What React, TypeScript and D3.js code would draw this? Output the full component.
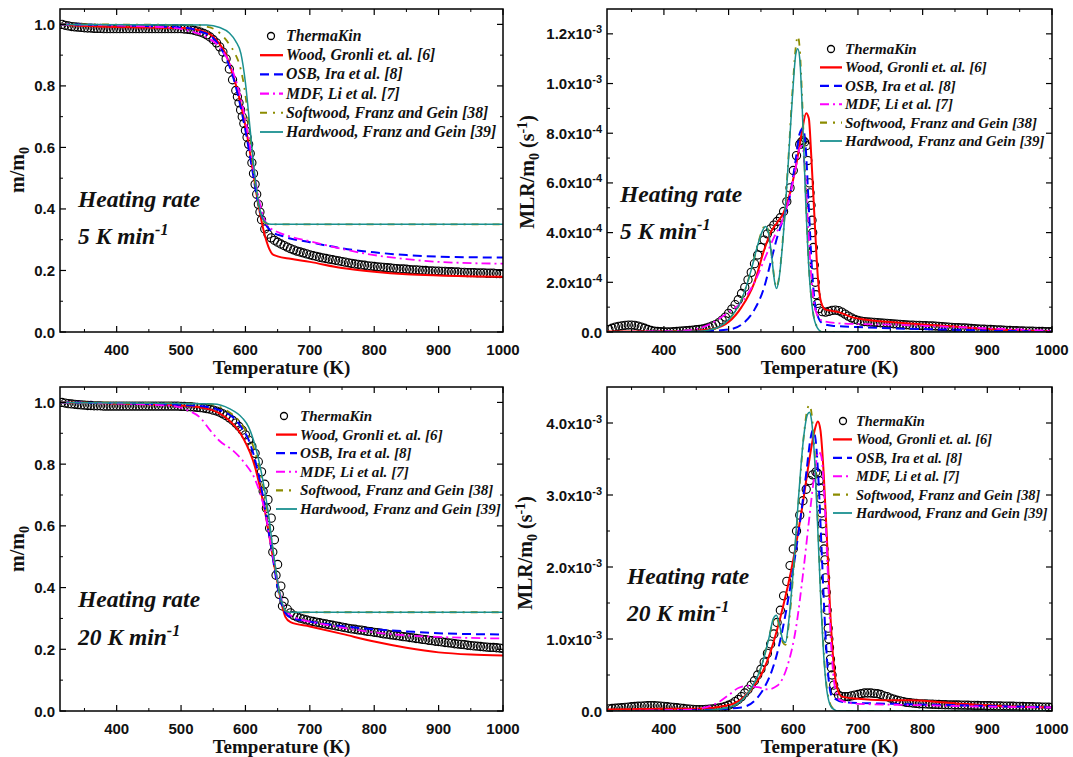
import React from 'react';
import * as d3 from 'd3';

// ---------------- DATA ----------------
// ThermaKin (experiment-fit) circles on a uniform 5 K grid starting at 315 K
const TK_T0 = 315;
const TK_DT = 5;

// Top-left: m/m0, 5 K/min
const tkMass5 = [
  1.0, 0.997, 0.995, 0.993, 0.992, 0.991, 0.99, 0.989, 0.988, 0.988,
  0.987, 0.987, 0.987, 0.986, 0.986, 0.986, 0.986, 0.986, 0.986, 0.986,
  0.986, 0.986, 0.986, 0.986, 0.986, 0.986, 0.986, 0.986, 0.986, 0.986,
  0.986, 0.986, 0.986, 0.986, 0.986, 0.986, 0.986, 0.986, 0.985, 0.984,
  0.983, 0.981, 0.978, 0.975, 0.971, 0.966, 0.959, 0.95, 0.94, 0.927,
  0.91, 0.888, 0.855, 0.82, 0.785, 0.745, 0.7, 0.655, 0.61, 0.55,
  0.48, 0.415, 0.365, 0.335, 0.318, 0.306, 0.298, 0.292, 0.286, 0.281,
  0.276, 0.271, 0.267, 0.263, 0.26, 0.257, 0.254, 0.251, 0.248, 0.246,
  0.243, 0.241, 0.239, 0.237, 0.235, 0.233, 0.231, 0.229, 0.227, 0.225,
  0.223, 0.221, 0.22, 0.218, 0.217, 0.215, 0.214, 0.213, 0.212, 0.211,
  0.21, 0.209, 0.208, 0.207, 0.206, 0.205, 0.205, 0.204, 0.203, 0.202,
  0.202, 0.201, 0.2, 0.2, 0.199, 0.199, 0.198, 0.198, 0.197, 0.197,
  0.196, 0.196, 0.195, 0.195, 0.194, 0.194, 0.193, 0.193, 0.193, 0.192,
  0.192, 0.192, 0.191, 0.191, 0.191, 0.19, 0.19, 0.19,
];
const tkMass5Extra: [number, number][] = [
  [587.5, 0.765], [592.5, 0.722], [597.5, 0.678], [602.5, 0.633],
  [607.5, 0.58], [612.5, 0.515], [617.5, 0.448], [622.5, 0.39],
];

// Top-right: MLR/m0, 5 K/min (units of 1e-4 s^-1)
const tkMlr5 = [
  0.1, 0.15, 0.2, 0.23, 0.25, 0.27, 0.28, 0.28, 0.27, 0.24,
  0.2, 0.15, 0.1, 0.06, 0.03, 0.02, 0.01, 0.0, 0.0, 0.0,
  0.01, 0.02, 0.03, 0.04, 0.05, 0.06, 0.07, 0.09, 0.1, 0.12,
  0.15, 0.2, 0.25, 0.3, 0.38, 0.48, 0.6, 0.75, 0.92, 1.1,
  1.3, 1.55, 1.8, 2.1, 2.4, 2.75, 3.1, 3.4, 3.7, 3.95,
  4.15, 4.3, 4.45, 4.6, 4.85, 5.25, 5.8, 6.5, 7.1, 7.55,
  7.7, 7.5, 6.0, 4.0, 1.5, 0.95, 0.82, 0.8, 0.83, 0.87,
  0.88, 0.86, 0.8, 0.72, 0.64, 0.57, 0.51, 0.47, 0.44, 0.42,
  0.41, 0.4, 0.39, 0.38, 0.37, 0.36, 0.35, 0.34, 0.33, 0.32,
  0.31, 0.3, 0.29, 0.28, 0.275, 0.27, 0.265, 0.26, 0.255, 0.25,
  0.245, 0.24, 0.23, 0.22, 0.21, 0.2, 0.19, 0.18, 0.175, 0.17,
  0.16, 0.15, 0.14, 0.13, 0.12, 0.115, 0.11, 0.105, 0.1, 0.095,
  0.085, 0.08, 0.07, 0.065, 0.06, 0.055, 0.05, 0.045, 0.04, 0.035,
  0.03, 0.03, 0.025, 0.02, 0.02, 0.015, 0.01, 0.01,
];
const tkMlr5Extra: [number, number][] = [
  [612.5, 7.65], [617.5, 7.65], [622.5, 6.9], [626, 5.6], [627.5, 5.1],
  [629, 4.5], [631, 3.4], [632.5, 2.7], [634, 2.0], [637.5, 1.15],
];

// Bottom-left: m/m0, 20 K/min
const tkMass20 = [
  1.0, 0.998, 0.996, 0.995, 0.994, 0.993, 0.992, 0.991, 0.99, 0.99,
  0.989, 0.989, 0.989, 0.988, 0.988, 0.988, 0.988, 0.988, 0.988, 0.988,
  0.988, 0.988, 0.988, 0.988, 0.988, 0.988, 0.988, 0.988, 0.988, 0.988,
  0.988, 0.988, 0.988, 0.988, 0.988, 0.988, 0.988, 0.987, 0.987, 0.986,
  0.986, 0.985, 0.984, 0.983, 0.982, 0.98, 0.978, 0.975, 0.972, 0.968,
  0.963, 0.957, 0.95, 0.942, 0.933, 0.922, 0.91, 0.895, 0.878, 0.858,
  0.835, 0.808, 0.775, 0.735, 0.685, 0.625, 0.555, 0.475, 0.405, 0.355,
  0.33, 0.318, 0.31, 0.305, 0.301, 0.298, 0.295, 0.292, 0.29, 0.288,
  0.286, 0.284, 0.282, 0.28, 0.278, 0.276, 0.274, 0.272, 0.27, 0.268,
  0.266, 0.265, 0.263, 0.262, 0.26, 0.258, 0.257, 0.255, 0.254, 0.252,
  0.25, 0.249, 0.247, 0.246, 0.244, 0.243, 0.241, 0.24, 0.238, 0.237,
  0.235, 0.234, 0.232, 0.231, 0.229, 0.228, 0.226, 0.225, 0.224, 0.222,
  0.221, 0.22, 0.218, 0.217, 0.216, 0.215, 0.213, 0.212, 0.211, 0.21,
  0.209, 0.208, 0.207, 0.206, 0.206, 0.205, 0.204, 0.203,
];
const tkMass20Extra: [number, number][] = [
  [627.5, 0.712], [632.5, 0.657], [637.5, 0.592], [642.5, 0.515],
  [647.5, 0.44], [652.5, 0.378], [657.5, 0.34],
];

// Bottom-right: MLR/m0, 20 K/min (units of 1e-3 s^-1)
const tkMlr20 = [
  0.03, 0.035, 0.038, 0.042, 0.046, 0.05, 0.055, 0.06, 0.063, 0.066,
  0.069, 0.072, 0.074, 0.075, 0.074, 0.072, 0.069, 0.065, 0.06, 0.055,
  0.05, 0.045, 0.04, 0.035, 0.03, 0.026, 0.022, 0.02, 0.02, 0.02,
  0.022, 0.025, 0.03, 0.035, 0.042, 0.05, 0.065, 0.08, 0.1, 0.13,
  0.16, 0.2, 0.25, 0.3, 0.36, 0.42, 0.5, 0.58, 0.68, 0.8,
  0.93, 1.07, 1.23, 1.4, 1.6, 1.8, 2.02, 2.25, 2.5, 2.72,
  2.92, 3.08, 3.2, 3.28, 3.32, 3.2, 2.6, 1.85, 1.0, 0.5,
  0.28, 0.22, 0.2, 0.2, 0.2, 0.21, 0.22, 0.23, 0.24, 0.25,
  0.25, 0.25, 0.245, 0.24, 0.23, 0.21, 0.2, 0.18, 0.165, 0.15,
  0.14, 0.13, 0.12, 0.115, 0.11, 0.105, 0.1, 0.1, 0.098, 0.096,
  0.094, 0.092, 0.09, 0.088, 0.087, 0.086, 0.085, 0.084, 0.083, 0.082,
  0.081, 0.08, 0.079, 0.078, 0.077, 0.076, 0.075, 0.074, 0.073, 0.072,
  0.071, 0.07, 0.069, 0.068, 0.067, 0.066, 0.065, 0.064, 0.063, 0.062,
  0.061, 0.06, 0.058, 0.057, 0.055, 0.054, 0.052, 0.05,
];
const tkMlr20Extra: [number, number][] = [
  [637.5, 3.3], [641, 3.1], [642.5, 2.95], [644, 2.75], [646, 2.4],
  [647.5, 2.25], [649, 2.1], [651, 1.65], [652.5, 1.4], [654, 1.15],
  [656, 0.88], [657.5, 0.72], [659, 0.6], [662.5, 0.36],
];

// Model curves: [T (K), value]
const woodMass5: [number, number][] = [[312,1.0],[350,0.995],[450,0.99],[500,0.988],[530,0.98],[550,0.96],[570,0.9],[580,0.84],[590,0.765],[600,0.67],[610,0.545],[620,0.415],[630,0.315],[637,0.27],[642,0.253],[650,0.246],[670,0.238],[700,0.228],[750,0.208],[800,0.196],[850,0.188],[900,0.184],[1000,0.18]];
const osbMass5: [number, number][] = [[312,1.0],[500,0.99],[530,0.977],[550,0.955],[570,0.89],[580,0.835],[590,0.755],[600,0.655],[610,0.535],[620,0.415],[630,0.355],[640,0.328],[660,0.31],[700,0.292],[750,0.272],[800,0.259],[850,0.25],[900,0.245],[1000,0.242]];
const mdfMass5: [number, number][] = [[312,1.0],[480,0.99],[510,0.98],[540,0.958],[560,0.925],[580,0.85],[595,0.74],[605,0.63],[615,0.5],[625,0.395],[635,0.345],[650,0.325],[670,0.31],[700,0.295],[750,0.27],[800,0.25],[850,0.237],[900,0.228],[1000,0.222]];
const softMass5: [number, number][] = [[312,1.0],[520,0.998],[545,0.99],[560,0.972],[575,0.935],[585,0.9],[592,0.86],[600,0.77],[607,0.64],[613,0.52],[620,0.415],[626,0.368],[632,0.353],[640,0.35],[1000,0.35]];
const hardMass5: [number, number][] = [[312,1.0],[540,0.998],[560,0.99],[575,0.972],[585,0.945],[593,0.905],[600,0.81],[607,0.665],[613,0.54],[620,0.425],[626,0.372],[632,0.355],[640,0.35],[1000,0.35]];

const woodMlr5: [number, number][] = [[312,0.02],[400,0.02],[450,0.05],[480,0.15],[500,0.4],[520,1.0],[540,2.0],[555,3.3],[565,4.0],[575,4.4],[585,4.8],[595,5.6],[605,6.8],[613,8.0],[620,8.8],[624,8.6],[628,7.0],[633,4.5],[638,2.2],[643,1.2],[650,0.9],[660,0.85],[670,0.8],[690,0.6],[710,0.5],[750,0.4],[800,0.3],[850,0.22],[900,0.12],[950,0.06],[1000,0.02]];
const osbMlr5: [number, number][] = [[312,0],[450,0.02],[500,0.1],[520,0.3],[540,0.9],[555,1.8],[565,2.8],[575,3.8],[585,4.6],[595,5.5],[603,6.8],[610,8.0],[615,8.2],[619,7.5],[624,5.0],[629,2.5],[635,0.9],[645,0.35],[660,0.25],[700,0.2],[750,0.15],[800,0.12],[900,0.06],[1000,0.02]];
const mdfMlr5: [number, number][] = [[312,0],[430,0.05],[470,0.3],[500,0.8],[520,1.2],[540,2.0],[555,2.9],[570,3.8],[585,4.6],[595,5.5],[603,6.5],[610,7.4],[614,7.5],[618,6.5],[623,4.2],[628,2.2],[634,0.9],[645,0.45],[670,0.35],[700,0.32],[750,0.3],[800,0.25],[850,0.2],[900,0.15],[950,0.1],[1000,0.05]];
const softMlr5: [number, number][] = [[312,0],[450,0.02],[480,0.15],[500,0.5],[520,1.3],[535,2.5],[545,3.5],[552,4.1],[557,4.3],[562,4.0],[567,3.0],[571,2.1],[574,1.8],[578,2.2],[584,3.8],[592,6.8],[599,9.8],[604,11.5],[607,11.9],[610,11.4],[614,9.2],[619,5.6],[624,2.7],[630,0.9],[637,0.2],[645,0.0],[1000,0.0]];
const hardMlr5: [number, number][] = [[312,0],[450,0.02],[480,0.15],[500,0.5],[520,1.3],[535,2.5],[545,3.5],[552,4.05],[557,4.25],[562,3.95],[567,2.95],[571,2.05],[574,1.75],[578,2.15],[584,3.7],[592,6.7],[599,9.6],[604,11.2],[607,11.4],[610,11.0],[614,8.9],[619,5.4],[624,2.6],[630,0.85],[637,0.18],[645,0.0],[1000,0.0]];

const woodMass20: [number, number][] = [[312,1.0],[500,0.99],[540,0.98],[570,0.95],[595,0.89],[615,0.79],[630,0.65],[645,0.47],[655,0.36],[662,0.305],[670,0.288],[700,0.274],[750,0.25],[800,0.225],[850,0.205],[900,0.19],[950,0.183],[1000,0.18]];
const osbMass20: [number, number][] = [[312,1.0],[520,0.99],[560,0.975],[590,0.93],[610,0.85],[625,0.72],[640,0.53],[652,0.38],[660,0.325],[670,0.303],[700,0.29],[750,0.275],[800,0.265],[850,0.258],[900,0.252],[1000,0.248]];
const mdfMass20: [number, number][] = [[312,1.0],[480,0.99],[510,0.975],[530,0.95],[545,0.91],[560,0.875],[580,0.845],[600,0.8],[615,0.75],[630,0.65],[643,0.5],[655,0.37],[665,0.32],[680,0.3],[700,0.29],[750,0.27],[800,0.255],[850,0.245],[900,0.24],[1000,0.235]];
const softMass20: [number, number][] = [[312,1.0],[540,0.995],[570,0.975],[590,0.94],[600,0.91],[610,0.87],[620,0.8],[630,0.7],[640,0.56],[648,0.44],[655,0.36],[660,0.33],[665,0.322],[672,0.32],[1000,0.32]];
const hardMass20: [number, number][] = [[312,1.0],[550,0.995],[575,0.98],[595,0.95],[605,0.92],[615,0.86],[625,0.77],[635,0.65],[643,0.52],[650,0.42],[657,0.35],[662,0.325],[668,0.32],[1000,0.32]];

const woodMlr20: [number, number][] = [[312,0.02],[400,0.03],[450,0.03],[500,0.08],[530,0.25],[560,0.7],[580,1.3],[600,2.1],[615,2.9],[625,3.5],[633,3.9],[638,4.02],[642,3.9],[647,3.3],[652,2.4],[657,1.4],[662,0.7],[667,0.35],[675,0.2],[700,0.17],[740,0.15],[780,0.15],[820,0.13],[860,0.1],[900,0.08],[950,0.06],[1000,0.05]];
const osbMlr20: [number, number][] = [[312,0.0],[450,0.01],[520,0.05],[550,0.25],[575,0.8],[595,1.7],[610,2.6],[620,3.3],[627,3.8],[630,3.9],[634,3.8],[639,3.2],[644,2.2],[649,1.2],[654,0.5],[660,0.2],[680,0.12],[750,0.1],[850,0.08],[1000,0.05]];
const mdfMlr20: [number, number][] = [[312,0.0],[440,0.02],[480,0.1],[500,0.22],[515,0.32],[530,0.35],[545,0.33],[560,0.3],[575,0.35],[590,0.6],[605,1.2],[615,1.9],[625,2.7],[633,3.3],[639,3.6],[643,3.55],[648,3.0],[653,2.0],[658,1.0],[664,0.35],[672,0.15],[700,0.1],[800,0.08],[900,0.06],[1000,0.05]];
const softMlr20: [number, number][] = [[312,0],[450,0.0],[500,0.05],[530,0.25],[550,0.6],[562,1.0],[569,1.25],[574,1.3],[579,1.15],[584,0.95],[588,0.92],[593,1.2],[600,1.9],[608,2.9],[616,3.8],[622,4.2],[625,4.25],[628,4.15],[633,3.6],[638,2.6],[643,1.5],[648,0.7],[653,0.25],[660,0.05],[670,0],[1000,0]];
const hardMlr20: [number, number][] = [[312,0],[450,0.0],[500,0.05],[530,0.25],[550,0.6],[562,1.0],[569,1.28],[574,1.33],[579,1.18],[584,0.98],[588,0.95],[593,1.25],[600,1.95],[608,2.95],[616,3.8],[622,4.12],[625,4.15],[628,4.05],[633,3.5],[638,2.5],[643,1.45],[648,0.65],[653,0.22],[660,0.04],[670,0],[1000,0]];

// Axes / ticks / labels
const xDomain: [number, number] = [312, 1000];
const xTicks = [400, 500, 600, 700, 800, 900, 1000];
const xMinor = [350, 450, 550, 650, 750, 850, 950];
const massTicks = [0, 0.2, 0.4, 0.6, 0.8, 1.0];
const massTickLabels = ['0.0', '0.2', '0.4', '0.6', '0.8', '1.0'];
const massMinor = [0.1, 0.3, 0.5, 0.7, 0.9];
const mlr5Ticks = [0, 2, 4, 6, 8, 10, 12];
const mlr5TickLabels = ['0.0', '2.0x10^-4', '4.0x10^-4', '6.0x10^-4', '8.0x10^-4', '1.0x10^-3', '1.2x10^-3'];
const mlr5Minor = [1, 3, 5, 7, 9, 11];
const mlr20Ticks = [0, 1, 2, 3, 4];
const mlr20TickLabels = ['0.0', '1.0x10^-3', '2.0x10^-3', '3.0x10^-3', '4.0x10^-3'];
const mlr20Minor = [0.5, 1.5, 2.5, 3.5];

const legendNames = [
  'ThermaKin',
  'Wood, Gronli et. al. [6]',
  'OSB, Ira et al. [8]',
  'MDF, Li et al. [7]',
  'Softwood, Franz and Gein [38]',
  'Hardwood, Franz and Gein [39]',
];
const seriesColors = ['#000000', '#ff0000', '#0000ff', '#ff00ff', '#8c8c00', '#1a9090'];
const seriesDash = ['', '', '9,5', '9,4,2,4', '7,6,2,6', ''];
const seriesWidth = [1, 2, 2, 1.8, 1.8, 1.5];

// ---------------- COMPONENTS ----------------
const TIMES = 'Liberation Serif, Times New Roman, serif';
const ARIAL = 'Liberation Sans, Arial, sans-serif';

function TickLabel({ x, y, text, anchor }: { x: number; y: number; text: string; anchor: string }) {
  const [base, exp] = text.split('^');
  return (
    <text x={x} y={y} textAnchor={anchor} style={{ fontFamily: ARIAL }} fontWeight="bold" fontSize={15} fill="#111">
      {base}
      {exp && <tspan dy={-6} fontSize={11}>{exp}</tspan>}
    </text>
  );
}

type Box = { l: number; r: number; t: number; b: number };

function Panel(props: {
  box: Box;
  yDomain: [number, number];
  yTicks: number[];
  yLabels: string[];
  yMinor: number[];
  circles: number[];
  extra: [number, number][];
  lines: [number, number][][];
  legend: { x0: number; x1: number; cx: number; tx: number; y0: number; dy: number; fs: number };
  ann: { x: number; y1: number; y2: number; rate: string };
  yTitle: 'mass' | 'mlr';
  yTitleX: number;
  yTitleY: number;
}) {
  const { box, yDomain } = props;
  const x = d3.scaleLinear().domain(xDomain).range([box.l, box.r]);
  const y = d3.scaleLinear().domain(yDomain).range([box.b, box.t]);
  const line = d3
    .line<[number, number]>()
    .x((d) => x(d[0]))
    .y((d) => y(d[1]))
    .curve(d3.curveMonotoneX);
  const pts: [number, number][] = props.circles.map((v, i) => [TK_T0 + i * TK_DT, v] as [number, number]);
  const allPts = pts.concat(props.extra).sort((a, b) => a[0] - b[0]);
  const clipId = `clip-${box.l}-${box.t}`;
  const lg = props.legend;
  const serif = { fontFamily: TIMES };
  return (
    <g>
      <defs>
        <clipPath id={clipId}>
          <rect x={box.l} y={box.t} width={box.r - box.l} height={box.b - box.t} />
        </clipPath>
      </defs>
      <g clipPath={`url(#${clipId})`}>
        {allPts.map((d, i) => (
          <circle key={i} cx={x(d[0])} cy={y(d[1])} r={4.1} fill="none" stroke="#000" strokeWidth={1.1} />
        ))}
        {props.lines.map((ln, i) => (
          <path
            key={i}
            d={line(ln) || ''}
            fill="none"
            stroke={seriesColors[i + 1]}
            strokeWidth={seriesWidth[i + 1]}
            strokeDasharray={seriesDash[i + 1] || undefined}
          />
        ))}
      </g>
      {/* frame */}
      <rect x={box.l} y={box.t} width={box.r - box.l} height={box.b - box.t} fill="none" stroke="#000" strokeWidth={1.5} />
      {/* x ticks */}
      {xTicks.map((t) => (
        <g key={'xt' + t}>
          <line x1={x(t)} x2={x(t)} y1={box.b} y2={box.b - 6} stroke="#000" strokeWidth={1.2} />
          <line x1={x(t)} x2={x(t)} y1={box.t} y2={box.t + 6} stroke="#000" strokeWidth={1.2} />
          <TickLabel x={x(t)} y={box.b + 23} text={String(t)} anchor="middle" />
        </g>
      ))}
      {xMinor.map((t) => (
        <g key={'xm' + t}>
          <line x1={x(t)} x2={x(t)} y1={box.b} y2={box.b - 3} stroke="#000" strokeWidth={1} />
          <line x1={x(t)} x2={x(t)} y1={box.t} y2={box.t + 3} stroke="#000" strokeWidth={1} />
        </g>
      ))}
      {/* y ticks */}
      {props.yTicks.map((t, i) => (
        <g key={'yt' + t}>
          <line x1={box.l} x2={box.l + 6} y1={y(t)} y2={y(t)} stroke="#000" strokeWidth={1.2} />
          <line x1={box.r} x2={box.r - 6} y1={y(t)} y2={y(t)} stroke="#000" strokeWidth={1.2} />
          <TickLabel x={box.l - 5} y={y(t) + 5.5} text={props.yLabels[i]} anchor="end" />
        </g>
      ))}
      {props.yMinor.map((t) => (
        <g key={'ym' + t}>
          <line x1={box.l} x2={box.l + 3} y1={y(t)} y2={y(t)} stroke="#000" strokeWidth={1} />
          <line x1={box.r} x2={box.r - 3} y1={y(t)} y2={y(t)} stroke="#000" strokeWidth={1} />
        </g>
      ))}
      {/* axis titles */}
      <text
        x={(box.l + box.r) / 2}
        y={box.b + 42}
        textAnchor="middle"
        style={serif}
        fontWeight="bold"
        fontSize={19}
        fill="#111"
      >
        Temperature (K)
      </text>
      <g transform={`translate(${props.yTitleX},${props.yTitleY}) rotate(-90)`}>
        {props.yTitle === 'mass' ? (
          <text textAnchor="middle" style={serif} fontWeight="bold" fontSize={20} fill="#111">
            m/m<tspan dy={5} fontSize={14}>0</tspan>
          </text>
        ) : (
          <text textAnchor="middle" style={serif} fontWeight="bold" fontSize={20} fill="#111">
            MLR/m<tspan dy={5} fontSize={14}>0</tspan>
            <tspan dy={-5}> (s</tspan>
            <tspan dy={-7} fontSize={14}>-1</tspan>
            <tspan dy={7}>)</tspan>
          </text>
        )}
      </g>
      {/* annotation */}
      <text x={props.ann.x} y={props.ann.y1} style={serif} fontWeight="bold" fontStyle="italic" fontSize={23.5} fill="#111">
        Heating rate
      </text>
      <text x={props.ann.x} y={props.ann.y2} style={serif} fontWeight="bold" fontStyle="italic" fontSize={23.5} fill="#111">
        {props.ann.rate} K min<tspan dy={-9} fontSize={16}>-1</tspan>
      </text>
      {/* legend */}
      {legendNames.map((name, i) => {
        const yy = lg.y0 + i * lg.dy;
        return (
          <g key={'lg' + i}>
            {i === 0 ? (
              <circle cx={lg.cx} cy={yy} r={3.5} fill="none" stroke="#000" strokeWidth={1.3} />
            ) : (
              <line
                x1={lg.x0}
                x2={lg.x1}
                y1={yy}
                y2={yy}
                stroke={seriesColors[i]}
                strokeWidth={seriesWidth[i] + 0.3}
                strokeDasharray={seriesDash[i] || undefined}
              />
            )}
            <text x={lg.tx} y={yy + 5} style={serif} fontWeight="bold" fontStyle="italic" fontSize={lg.fs} fill="#111">
              {name}
            </text>
          </g>
        );
      })}
    </g>
  );
}

export default function App() {
  return (
    <svg
      width={1073}
      height={757}
      style={{ position: 'absolute', left: 0, top: 0, background: '#fff' }}
      xmlns="http://www.w3.org/2000/svg"
    >
      <rect x={0} y={0} width={1073} height={757} fill="#fff" />
      <Panel
        box={{ l: 60, r: 503, t: 9, b: 332 }}
        yDomain={[0, 1.05]}
        yTicks={massTicks}
        yLabels={massTickLabels}
        yMinor={massMinor}
        circles={tkMass5}
        extra={tkMass5Extra}
        lines={[woodMass5, osbMass5, mdfMass5, softMass5, hardMass5]}
        legend={{ x0: 260, x1: 283, cx: 271, tx: 286, y0: 36, dy: 19.2, fs: 15.8 }}
        ann={{ x: 78, y1: 207, y2: 244, rate: '5' }}
        yTitle="mass"
        yTitleX={24}
        yTitleY={170}
      />
      <Panel
        box={{ l: 607, r: 1052, t: 9, b: 332 }}
        yDomain={[0, 13]}
        yTicks={mlr5Ticks}
        yLabels={mlr5TickLabels}
        yMinor={mlr5Minor}
        circles={tkMlr5}
        extra={tkMlr5Extra}
        lines={[woodMlr5, osbMlr5, mdfMlr5, softMlr5, hardMlr5]}
        legend={{ x0: 820, x1: 842, cx: 831, tx: 845, y0: 49, dy: 18.4, fs: 15 }}
        ann={{ x: 620, y1: 202, y2: 239, rate: '5' }}
        yTitle="mlr"
        yTitleX={534}
        yTitleY={172}
      />
      <Panel
        box={{ l: 60, r: 503, t: 387, b: 711 }}
        yDomain={[0, 1.05]}
        yTicks={massTicks}
        yLabels={massTickLabels}
        yMinor={massMinor}
        circles={tkMass20}
        extra={tkMass20Extra}
        lines={[woodMass20, osbMass20, mdfMass20, softMass20, hardMass20]}
        legend={{ x0: 276, x1: 297, cx: 284, tx: 300, y0: 416, dy: 18.6, fs: 15.1 }}
        ann={{ x: 78, y1: 607, y2: 645, rate: '20' }}
        yTitle="mass"
        yTitleX={24}
        yTitleY={549}
      />
      <Panel
        box={{ l: 607, r: 1052, t: 387, b: 711 }}
        yDomain={[0, 4.5]}
        yTicks={mlr20Ticks}
        yLabels={mlr20TickLabels}
        yMinor={mlr20Minor}
        circles={tkMlr20}
        extra={tkMlr20Extra}
        lines={[woodMlr20, osbMlr20, mdfMlr20, softMlr20, hardMlr20]}
        legend={{ x0: 833, x1: 852, cx: 843, tx: 856, y0: 421, dy: 18.4, fs: 14.4 }}
        ann={{ x: 627, y1: 584, y2: 621, rate: '20' }}
        yTitle="mlr"
        yTitleX={532}
        yTitleY={553}
      />
    </svg>
  );
}
